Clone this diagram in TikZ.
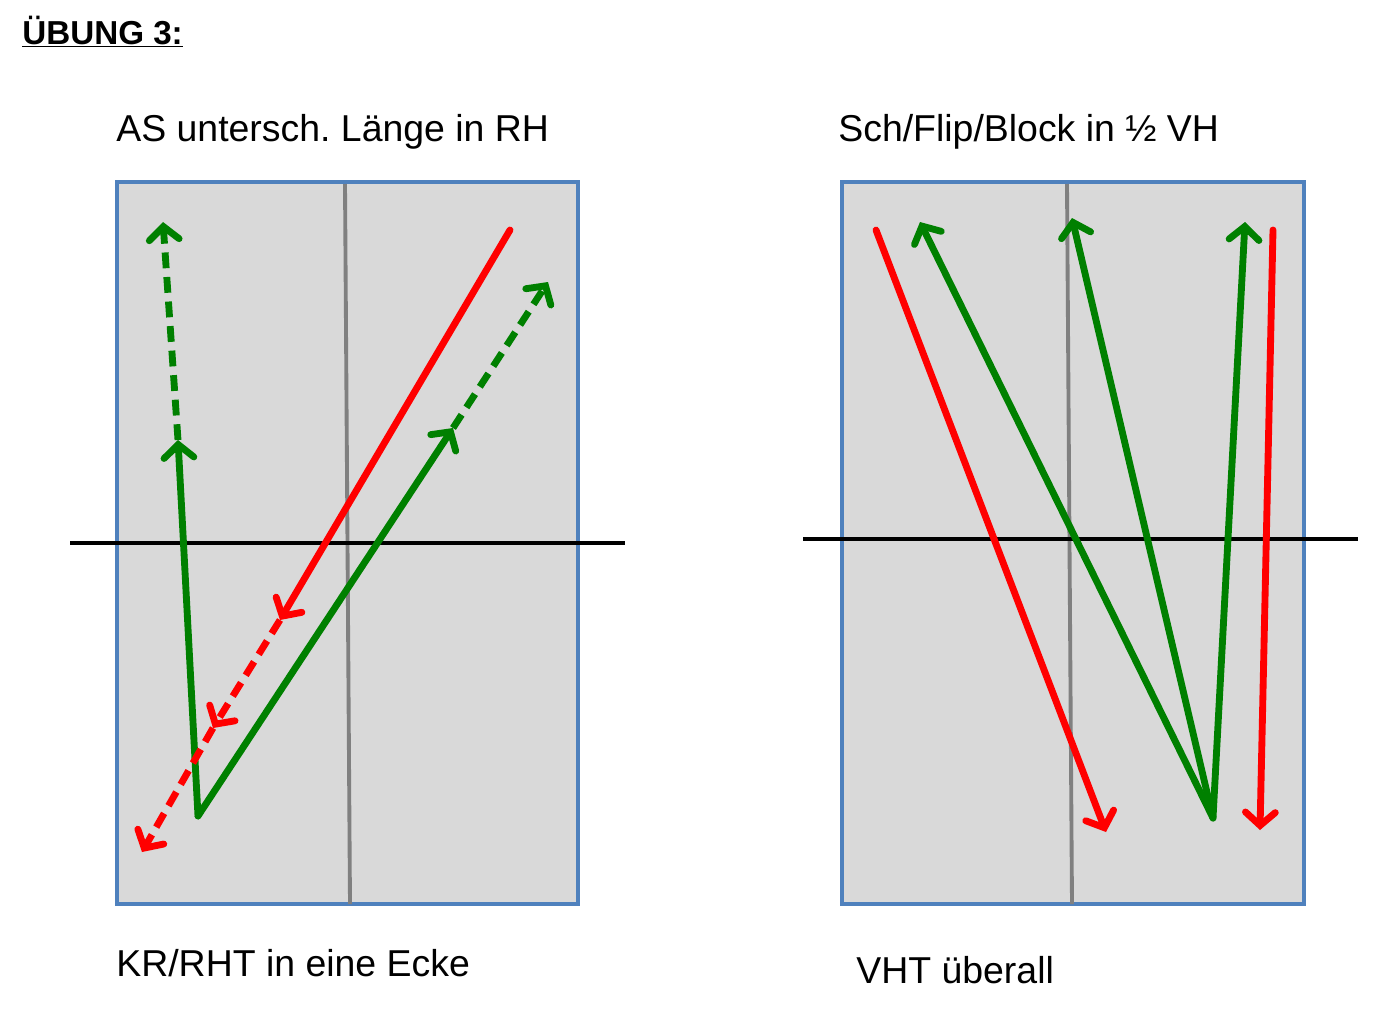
\documentclass[tikz,border=0pt]{standalone}
\usepackage{fontspec}
\setmainfont{Liberation Sans}
\usetikzlibrary{arrows.meta}
\definecolor{boxgray}{RGB}{217,217,217}
\definecolor{boxblue}{RGB}{79,129,189}
\definecolor{divgray}{RGB}{128,128,128}
\definecolor{pgreen}{RGB}{0,128,0}
\definecolor{pred}{RGB}{255,0,0}
\frenchspacing
\begin{document}
\begin{tikzpicture}[x=0.02cm,y=-0.02cm,
  field/.style={fill=boxgray,draw=boxblue,line width=2.2pt},
  divider/.style={draw=divgray,line width=2.2pt},
  netline/.style={draw=black,line width=2.4pt},
  run/.style={line width=3.9pt,line cap=round,-{Straight Barb[length=7.5pt,width=17pt,line cap=round]}},
  dashedrun/.style={run,dash pattern=on 9pt off 5pt,line cap=butt},
  lab/.style={anchor=base west,inner sep=0pt,font=\fontsize{21.3}{25}\selectfont}]
\useasboundingbox (0,0) rectangle (1387,1015);

% title
\node[anchor=base west,inner sep=0pt,font=\fontsize{18.9}{22}\selectfont\bfseries] (title) at (22,44) {\underline{ÜBUNG 3:}};

% left field
\draw[field] (117,182) rectangle (578,904);
\draw[divider] (345,184) -- (350,904);
\draw[netline] (70,543) -- (625,543);
\node[lab] (leftTop) at (116,141) {AS untersch. Länge in RH};
\node[lab] (leftBot) at (116,976) {KR/RHT in eine Ecke};

\coordinate (L0) at (198,816);
\coordinate (L1) at (178,440);
\coordinate (L2) at (163,222);
\coordinate (L3) at (453,428);
\coordinate (L4) at (548,282);
\coordinate (R0) at (510,230);
\coordinate (R1) at (280,620);
\coordinate (R2) at (213,728);
\coordinate (R3) at (142,852);

\draw[run,pgreen] (L0) -- (L1);
\draw[dashedrun,pgreen] (L1) -- (L2);
\draw[run,pgreen] (L0) -- (L3);
\draw[dashedrun,pgreen] (L3) -- (L4);
\draw[run,pred] (R0) -- (R1);
\draw[dashedrun,pred] (R1) -- (R2);
\draw[dashedrun,pred] (R2) -- (R3);

% right field
\draw[field] (842,182) rectangle (1304,904);
\draw[divider] (1067,184) -- (1072,904);
\draw[netline] (803,539) -- (1358,539);
\node[lab] (rightTop) at (838,141) {Sch/Flip/Block in ½ VH};
\node[lab] (rightBot) at (856,983) {VHT überall};

\coordinate (V0) at (1213,818);
\coordinate (V1) at (920,222);
\coordinate (V2) at (1072,218);
\coordinate (V3) at (1245,222);
\coordinate (S0) at (876,230);
\coordinate (S1) at (1106,832);
\coordinate (T0) at (1273,230);
\coordinate (T1) at (1260,830);

\draw[run,pred] (S0) -- (S1);
\draw[run,pgreen] (V0) -- (V1);
\draw[run,pgreen] (V0) -- (V2);
\draw[run,pgreen] (V0) -- (V3);
\draw[run,pred] (T0) -- (T1);
\end{tikzpicture}
\end{document}
